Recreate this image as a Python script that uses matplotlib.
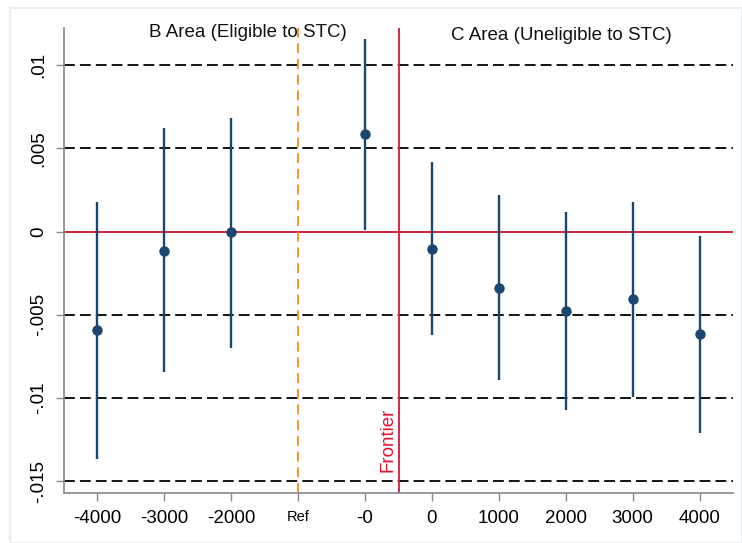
import matplotlib
matplotlib.use("Agg")
import matplotlib.pyplot as plt
from matplotlib.patches import Rectangle

labels = ["-4000", "-3000", "-2000", "Ref", "-0", "0", "1000", "2000", "3000", "4000"]
est_pos = [0, 1, 2, 4, 5, 6, 7, 8, 9]
estimates = [-0.0059, -0.00114, -0.00003, 0.00584, -0.00102, -0.00337, -0.00476, -0.00404, -0.00614]
ci_low = [-0.01367, -0.00843, -0.00699, 0.0001, -0.0062, -0.0089, -0.0107, -0.00994, -0.0121]
ci_high = [0.0018, 0.0062, 0.0068, 0.01157, 0.00416, 0.00217, 0.0012, 0.0018, -0.00024]
yticks = [0.01, 0.005, 0, -0.005, -0.01, -0.015]
ytick_labels = [".01", ".005", "0", "-.005", "-.01", "-.015"]

plt.rcParams['font.family'] = ['Liberation Sans', 'DejaVu Sans']
navy = "#1a476f"

fig = plt.figure(figsize=(7.42, 5.43), dpi=100)
fig.patches.append(Rectangle((10/742, 0), 1 - 10/742, 1 - 8/543, transform=fig.transFigure,
                             fill=False, edgecolor="#e6eaed", linewidth=1.2))
ax = fig.add_axes([64/742, 1 - 493/543, (733 - 64)/742, (493 - 28)/543])

for yv in [0.01, 0.005, -0.005, -0.01, -0.015]:
    ax.axhline(yv, color="black", linestyle=(0, (6, 2.8)), linewidth=1.3, zorder=1)
ax.axhline(0, color="#c8102e", linewidth=1.3, zorder=1)
ax.axvline(3, color="#f28e1c", linestyle=(0, (5.5, 3.2)), linewidth=1.3, zorder=1)
ax.axvline(4.5, color="#d9153a", linewidth=1.3, zorder=1)

ax.vlines(est_pos, ci_low, ci_high, color=navy, linewidth=1.7, zorder=3)
ax.plot(est_pos, estimates, 'o', color=navy, markersize=6.5, zorder=4)

ax.text(2.25, 0.01193, "B Area (Eligible to STC)", ha="center", va="center", fontsize=13.5, color="#111111")
ax.text(6.94, 0.01175, "C Area (Uneligible to STC)", ha="center", va="center", fontsize=13.5, color="#111111")
ax.text(4.47, -0.01446, "Frontier", rotation=90, ha="right", va="bottom", fontsize=13.5, color="#e8102e")

ax.set_xlim(-0.5, 9.5)
ax.set_ylim(-0.0157, 0.01223)
ax.set_xticks(range(len(labels)))
ax.set_xticklabels(labels, fontsize=13.5)
for t in ax.get_xticklabels():
    if t.get_text() == "Ref":
        t.set_fontsize(10.5)
ax.set_yticks(yticks)
ax.set_yticklabels(ytick_labels, fontsize=13.5, rotation=90, va="center")

for s in ["top", "right"]:
    ax.spines[s].set_visible(False)
for s in ["left", "bottom"]:
    ax.spines[s].set_color("#888888")
    ax.spines[s].set_linewidth(1.2)
ax.tick_params(axis="both", direction="out", length=6, color="#888888", width=1.0, pad=6)

fig.savefig("out.png", dpi=100)
